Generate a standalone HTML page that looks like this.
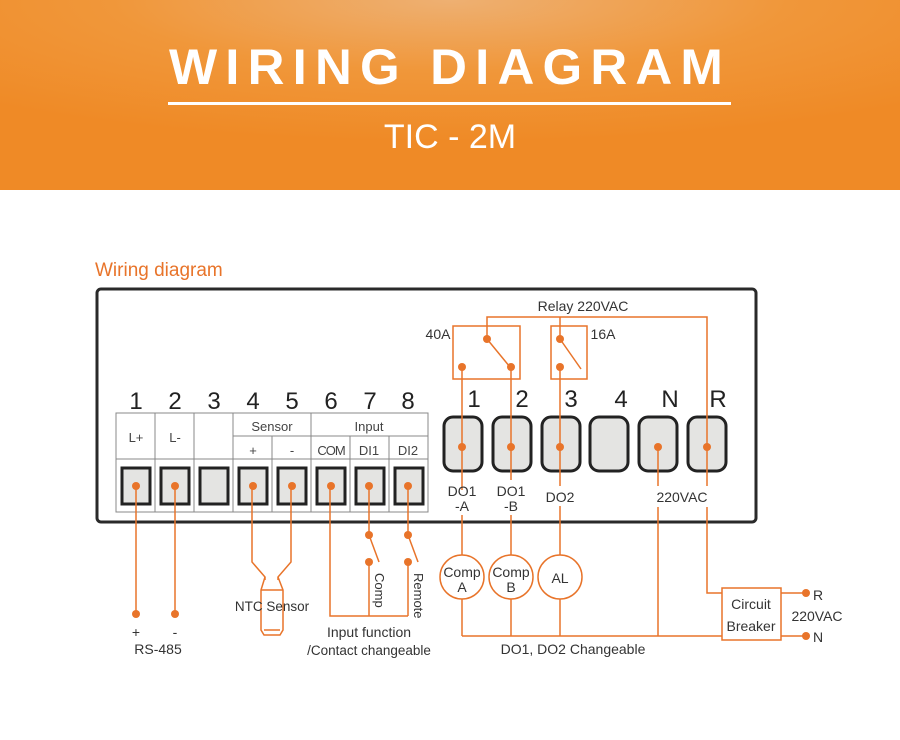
<!DOCTYPE html>
<html><head><meta charset="utf-8"><style>
html,body{margin:0;padding:0;background:#fff}
svg{display:block}
text{font-family:"Liberation Sans",sans-serif}
</style></head><body>
<svg width="900" height="740" viewBox="0 0 900 740" xmlns="http://www.w3.org/2000/svg">
<defs>
<radialGradient id="hg" cx="0.5" cy="0" r="0.75" gradientTransform="scale(1,1)">
<stop offset="0" stop-color="#eeb072"/>
<stop offset="0.5" stop-color="#f0973a"/>
<stop offset="1" stop-color="#ef8a26"/>
</radialGradient>
</defs>
<rect x="0" y="0" width="900" height="190" fill="url(#hg)"/>
<text x="450" y="84" fill="#fff" font-size="50" font-weight="bold" text-anchor="middle" letter-spacing="8" textLength="562" lengthAdjust="spacingAndGlyphs">WIRING DIAGRAM</text>
<rect x="168" y="102" width="563" height="3" fill="#fff"/>
<text x="450" y="148" fill="#fff" font-size="34" text-anchor="middle">TIC - 2M</text>

<text x="95" y="276" fill="#e8742a" font-size="19">Wiring diagram</text>

<rect x="97" y="289" width="659" height="233" rx="4" fill="#fff" stroke="#2a2a2a" stroke-width="3"/>

<!-- left terminal block -->
<g stroke="#888" stroke-width="1" fill="none">
<rect x="116" y="413" width="312" height="99" fill="#fff"/>
<line x1="116" y1="459" x2="428" y2="459"/>
<line x1="155" y1="413" x2="155" y2="512"/>
<line x1="194" y1="413" x2="194" y2="512"/>
<line x1="233" y1="413" x2="233" y2="512"/>
<line x1="272" y1="436" x2="272" y2="512"/>
<line x1="311" y1="413" x2="311" y2="512"/>
<line x1="350" y1="436" x2="350" y2="512"/>
<line x1="389" y1="436" x2="389" y2="512"/>
<line x1="233" y1="436" x2="428" y2="436"/>
</g>
<g font-size="24" fill="#222" text-anchor="middle">
<text x="136" y="409">1</text><text x="175" y="409">2</text><text x="214" y="409">3</text><text x="253" y="409">4</text><text x="292" y="409">5</text><text x="331" y="409">6</text><text x="370" y="409">7</text><text x="408" y="409">8</text>
<text x="474" y="407">1</text><text x="522" y="407">2</text><text x="571" y="407">3</text><text x="621" y="407">4</text><text x="670" y="407">N</text><text x="718" y="407">R</text>
</g>
<g font-size="13" fill="#444" text-anchor="middle">
<text x="136" y="442">L+</text><text x="175" y="442">L-</text>
<text x="272" y="431">Sensor</text><text x="369" y="431">Input</text>
<text x="253" y="455">+</text><text x="292" y="455">-</text>
<text x="331" y="455" letter-spacing="-1">COM</text><text x="369" y="455">DI1</text><text x="408" y="455">DI2</text>
</g>
<g fill="#e4e4e2" stroke="#222" stroke-width="3">
<rect x="122" y="468" width="28" height="36"/><rect x="161" y="468" width="28" height="36"/><rect x="200" y="468" width="28" height="36"/><rect x="239" y="468" width="28" height="36"/><rect x="278" y="468" width="28" height="36"/><rect x="317" y="468" width="28" height="36"/><rect x="356" y="468" width="28" height="36"/><rect x="395" y="468" width="28" height="36"/>
</g>
<g fill="#e4e4e2" stroke="#222" stroke-width="3">
<rect x="444" y="417" width="38" height="54" rx="9"/><rect x="493" y="417" width="38" height="54" rx="9"/><rect x="542" y="417" width="38" height="54" rx="9"/><rect x="590" y="417" width="38" height="54" rx="9"/><rect x="639" y="417" width="38" height="54" rx="9"/><rect x="688" y="417" width="38" height="54" rx="9"/>
</g>

<g stroke="#e8742a" stroke-width="1.5" fill="none">
<!-- left wires -->
<line x1="136" y1="486" x2="136" y2="614"/>
<line x1="175" y1="486" x2="175" y2="614"/>
<polyline points="252,486 252,562 265,577 265,580"/>
<polyline points="291,486 291,562 278,577 278,580"/>
<polyline points="265,577 261,590 261,630 264,635 280,635 283,630 283,590 278,577"/>
<line x1="261" y1="590" x2="283" y2="590"/>
<line x1="264" y1="630" x2="280" y2="630"/>
<polyline points="330,486 330,616 408,616"/>
<line x1="369" y1="486" x2="369" y2="535"/>
<line x1="369" y1="535" x2="379" y2="562"/>
<line x1="369" y1="562" x2="369" y2="616"/>
<line x1="408" y1="486" x2="408" y2="535"/>
<line x1="408" y1="535" x2="418" y2="562"/>
<line x1="408" y1="562" x2="408" y2="616"/>
<!-- relays -->
<rect x="453" y="326" width="67" height="53"/>
<rect x="551" y="326" width="36" height="53"/>
<polyline points="487,339 487,317 707,317 707,447"/>
<line x1="560" y1="317" x2="560" y2="339"/>
<line x1="487" y1="339" x2="510" y2="367"/>
<line x1="560" y1="339" x2="581" y2="369"/>
<line x1="462" y1="367" x2="462" y2="490"/>
<line x1="511" y1="367" x2="511" y2="480"/>
<line x1="560" y1="367" x2="560" y2="486"/>
<line x1="658" y1="447" x2="658" y2="486"/>
<line x1="707" y1="447" x2="707" y2="486"/>
<line x1="462" y1="515" x2="462" y2="555"/>
<line x1="511" y1="515" x2="511" y2="555"/>
<line x1="560" y1="506" x2="560" y2="555"/>
<circle cx="462" cy="577" r="22"/><circle cx="511" cy="577" r="22"/><circle cx="560" cy="577" r="22"/>
<line x1="462" y1="599" x2="462" y2="636"/>
<line x1="511" y1="599" x2="511" y2="636"/>
<line x1="560" y1="599" x2="560" y2="636"/>
<line x1="462" y1="636" x2="722" y2="636"/>
<line x1="658" y1="507" x2="658" y2="636"/>
<polyline points="707,507 707,593 722,593"/>
<rect x="722" y="588" width="59" height="52"/>
<line x1="781" y1="593" x2="806" y2="593"/>
<line x1="781" y1="636" x2="806" y2="636"/>
</g>
<g fill="#e8742a">
<circle cx="136" cy="486" r="4"/><circle cx="175" cy="486" r="4"/><circle cx="253" cy="486" r="4"/><circle cx="292" cy="486" r="4"/><circle cx="331" cy="486" r="4"/><circle cx="369" cy="486" r="4"/><circle cx="408" cy="486" r="4"/>
<circle cx="136" cy="614" r="4"/><circle cx="175" cy="614" r="4"/>
<circle cx="369" cy="535" r="4"/><circle cx="369" cy="562" r="4"/><circle cx="408" cy="535" r="4"/><circle cx="408" cy="562" r="4"/>
<circle cx="462" cy="447" r="4"/><circle cx="511" cy="447" r="4"/><circle cx="560" cy="447" r="4"/><circle cx="658" cy="447" r="4"/><circle cx="707" cy="447" r="4"/>
<circle cx="462" cy="367" r="4"/><circle cx="511" cy="367" r="4"/><circle cx="487" cy="339" r="4"/><circle cx="560" cy="339" r="4"/><circle cx="560" cy="367" r="4"/>
<circle cx="806" cy="593" r="4"/><circle cx="806" cy="636" r="4"/>
</g>
<g font-size="14" fill="#333" text-anchor="middle">
<text x="583" y="311">Relay 220VAC</text>
<text x="438" y="339">40A</text><text x="603" y="339">16A</text>
<text x="462" y="496">DO1</text><text x="462" y="511">-A</text>
<text x="511" y="496">DO1</text><text x="511" y="511">-B</text>
<text x="560" y="502">DO2</text>
<text x="682" y="502">220VAC</text>
<text x="462" y="577">Comp</text><text x="462" y="592">A</text>
<text x="511" y="577">Comp</text><text x="511" y="592">B</text>
<text x="560" y="583">AL</text>
<text x="751" y="609">Circuit</text><text x="751" y="631">Breaker</text>
<text x="818" y="600">R</text><text x="817" y="621">220VAC</text><text x="818" y="642">N</text>
<text x="573" y="654">DO1, DO2 Changeable</text>
<text x="272" y="611" font-size="13.5">NTC Sensor</text>
<text x="369" y="637">Input function</text>
<text x="369" y="655" font-size="13.5">/Contact changeable</text>
<text x="136" y="637">+</text><text x="175" y="637">-</text>
<text x="158" y="654">RS-485</text>
<text transform="translate(375,573) rotate(90)" text-anchor="start" font-size="13">Comp</text>
<text transform="translate(414,573) rotate(90)" text-anchor="start" font-size="13">Remote</text>
</g>
</svg>
</body></html>
